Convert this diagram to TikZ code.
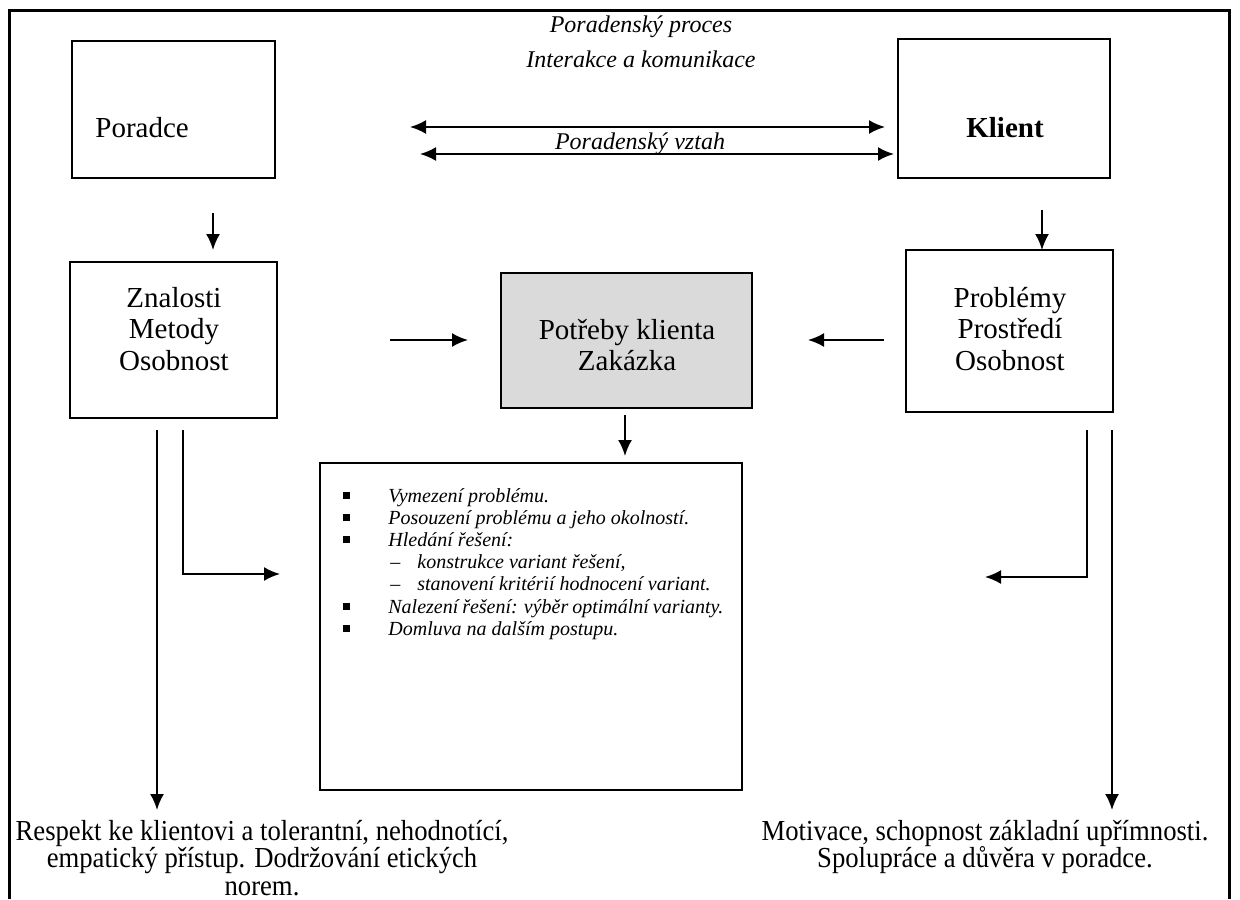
\documentclass[tikz,border=0pt]{standalone}
\usepackage{fontspec}
\setmainfont{Liberation Serif}
\newfontfamily\narrowserif[FakeStretch=0.92]{Liberation Serif}
\usetikzlibrary{arrows.meta}
\definecolor{shade}{RGB}{218,218,218}
\begin{document}
\begin{tikzpicture}[x=0.5pt,y=-0.5pt,
  box/.style={draw, line width=1pt, inner sep=0pt},
  conn/.style={line width=1pt, -{Latex[length=8pt,width=7pt]}},
  twoway/.style={line width=1pt, {Latex[length=8pt,width=7pt]}-{Latex[length=8pt,width=7pt]}},
  lbl/.style={inner sep=0pt, font=\fontsize{14.5}{15.75}\selectfont, align=center},
  toplbl/.style={inner sep=0pt, font=\fontsize{12}{13}\selectfont\itshape},
  bottomtxt/.style={inner sep=0pt, font=\fontsize{14.5}{13.75}\selectfont\narrowserif, align=center},
  listtxt/.style={inner sep=0pt, font=\fontsize{10}{11.1}\selectfont\itshape}
]
\useasboundingbox (0,0) rectangle (1240,899);
% outer frame (open at the bottom)
\draw[line width=1.5pt] (9,899) -- (9,11) -- (1229,11) -- (1229,899);

% boxes
\node[box, minimum width=101.5pt, minimum height=68.5pt] (poradce) at (173.5,109.5) {};
\node[box, minimum width=106pt, minimum height=69.5pt] (klient) at (1004,108.5) {};
\node[box, minimum width=103.5pt, minimum height=78pt] (znalosti) at (173.5,340) {};
\node[box, fill=shade, minimum width=125.5pt, minimum height=67.5pt] (potreby) at (626.5,340.5) {};
\node[box, minimum width=103.5pt, minimum height=81pt] (problemy) at (1009.5,331) {};
\node[box, minimum width=211pt, minimum height=163.5pt] (seznam) at (531,626.5) {};

% box texts
\node[lbl, anchor=west] (tporadce) at (95,128) {Poradce};
\node[lbl, font=\fontsize{14.5}{15.75}\selectfont\bfseries] (tklient) at (1005,128) {Klient};
\node[lbl] (tznalosti) at (174,329) {Znalosti\\Metody\\Osobnost};
\node[lbl] (tpotreby) at (627,345) {Potřeby klienta\\Zakázka};
\node[lbl] (tproblemy) at (1010,329) {Problémy\\Prostředí\\Osobnost};

% top labels
\node[toplbl] (proces) at (641,27) {Poradenský proces};
\node[toplbl] (interakce) at (641,59) {Interakce a komunikace};
\node[toplbl] (vztah) at (640,144) {Poradenský vztah};

% list
\node[listtxt, anchor=base west] (items) at (343,502) {\parbox[t]{190pt}{%
\makebox[22.5pt][l]{\raisebox{1.5pt}{\rule{3.5pt}{3.5pt}}}Vymezení problému.\\
\makebox[22.5pt][l]{\raisebox{1.5pt}{\rule{3.5pt}{3.5pt}}}Posouzení problému a jeho okolností.\\
\makebox[22.5pt][l]{\raisebox{1.5pt}{\rule{3.5pt}{3.5pt}}}Hledání řešení:\\
\hspace*{23.5pt}\makebox[13.5pt][l]{\upshape –}konstrukce variant řešení,\\
\hspace*{23.5pt}\makebox[13.5pt][l]{\upshape –}stanovení kritérií hodnocení variant.\\
\makebox[22.5pt][l]{\raisebox{1.5pt}{\rule{3.5pt}{3.5pt}}}Nalezení řešení: výběr optimální varianty.\\
\makebox[22.5pt][l]{\raisebox{1.5pt}{\rule{3.5pt}{3.5pt}}}Domluva na dalším postupu.}};

% bottom texts
\node[bottomtxt, anchor=base] (respekt) at (262,840) {\parbox[t]{260pt}{\centering\fontsize{14.5}{13.75}\selectfont\narrowserif
Respekt ke klientovi a tolerantní, nehodnotící,\\ empatický přístup. Dodržování etických\\ norem.}};
\node[bottomtxt, anchor=base] (motivace) at (985,840) {\parbox[t]{260pt}{\centering\fontsize{14.5}{13.75}\selectfont\narrowserif
Motivace, schopnost základní upřímnosti.\\ Spolupráce a důvěra v poradce.}};

% connector end points
\coordinate (a1l) at (410,127);
\coordinate (a1r) at (885,127);
\coordinate (a2l) at (420,154);
\coordinate (a2r) at (894,154);
\coordinate (pd1) at (213,213);
\coordinate (pd2) at (213,250);
\coordinate (kd1) at (1042,210);
\coordinate (kd2) at (1042,250);
\coordinate (zr1) at (390,340);
\coordinate (zr2) at (468,340);
\coordinate (pl1) at (884,340);
\coordinate (pl2) at (808,340);
\coordinate (cd1) at (625,415);
\coordinate (cd2) at (625,456);
\coordinate (ll1) at (157,430);
\coordinate (ll2) at (157,810);
\coordinate (le1) at (183,430);
\coordinate (le2) at (280,574);
\coordinate (re1) at (1087,430);
\coordinate (re2) at (985,577);
\coordinate (rl1) at (1112,430);
\coordinate (rl2) at (1112,810);

% connectors
\draw[twoway] (a1l) -- (a1r);
\draw[twoway] (a2l) -- (a2r);
\draw[conn] (pd1) -- (pd2);
\draw[conn] (kd1) -- (kd2);
\draw[conn] (zr1) -- (zr2);
\draw[conn] (pl1) -- (pl2);
\draw[conn] (cd1) -- (cd2);
\draw[conn] (ll1) -- (ll2);
\draw[conn] (le1) |- (le2);
\draw[conn] (re1) |- (re2);
\draw[conn] (rl1) -- (rl2);
\end{tikzpicture}
\end{document}
